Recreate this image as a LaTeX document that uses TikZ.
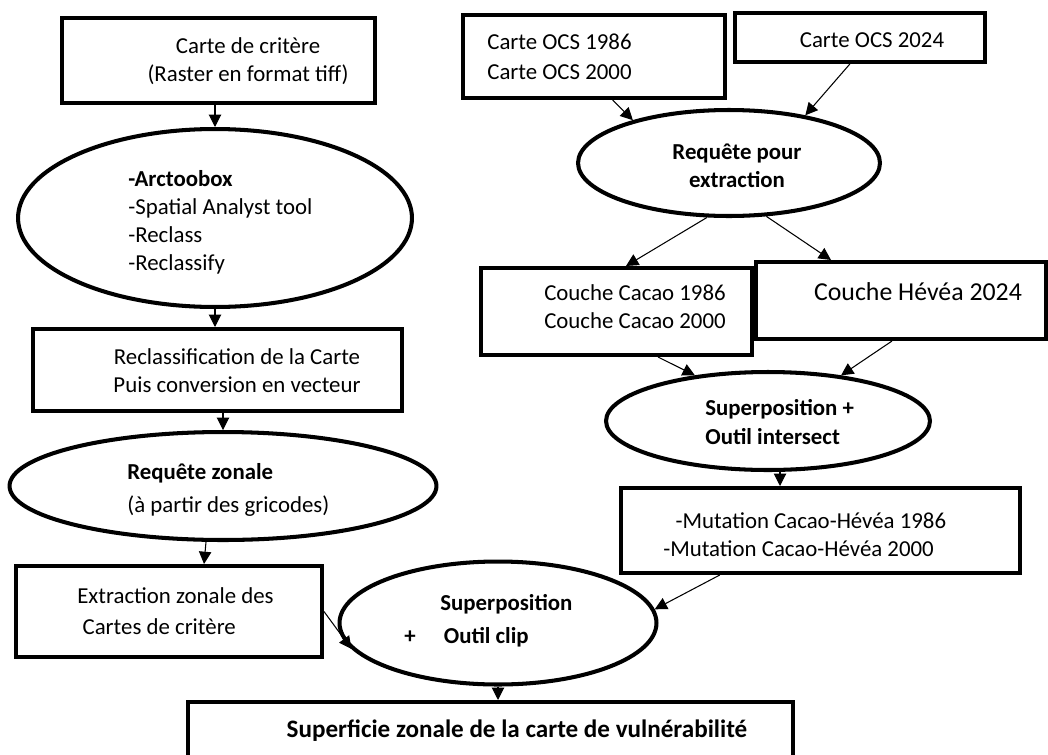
\documentclass[tikz,border=0pt]{standalone}
\usepackage{fontspec}
\setmainfont{Carlito}
\usetikzlibrary{shapes.geometric,arrows.meta,calc}

\begin{document}
\begin{tikzpicture}
        [   x=0.02cm, y=-0.02cm,
            boite/.style=
            {rectangle, draw, line width=2.3pt, inner sep=0pt},
            bulle/.style=
            {ellipse, draw, line width=2.3pt, inner sep=0pt},
            texte/.style=
            {inner sep=0pt, font=\fontsize{13pt}{16pt}\selectfont},
            fleche/.style=
            {-{Triangle[length=7pt,width=7pt]}, line width=0.6pt}
        ]
            \useasboundingbox (0,0) rectangle (1048,754);

            % colonne de gauche
            \node[boite, minimum width=6.26cm, minimum height=1.70cm] (carteCritere) at (218.5,60.5) {};
            \node[bulle, minimum width=7.88cm, minimum height=3.56cm] (arcToolbox) at (215,218) {};
            \node[boite, minimum width=7.38cm, minimum height=1.64cm] (reclassCarte) at (217.5,370) {};
            \node[bulle, minimum width=8.54cm, minimum height=2.16cm] (requeteZonale) at (223,486) {};
            \node[boite, minimum width=6.12cm, minimum height=1.82cm] (extractionZonale) at (169,611.5) {};
            \node[bulle, minimum width=6.34cm, minimum height=2.46cm] (superpoClip) at (498,623) {};
            \node[boite, minimum width=12.10cm, minimum height=1.40cm] (superficie) at (490.5,737) {};

            % colonne de droite
            \node[boite, minimum width=5.24cm, minimum height=1.66cm] (ocsAnciennes) at (594,56.5) {};
            \node[boite, minimum width=5.00cm, minimum height=0.98cm] (ocsRecente) at (860,37.5) {};
            \node[bulle, minimum width=6.04cm, minimum height=2.12cm] (requeteExtraction) at (729,163) {};
            \node[boite, minimum width=5.42cm, minimum height=1.74cm] (coucheCacao) at (616.5,311.5) {};
            \node[boite, minimum width=5.80cm, minimum height=1.54cm] (coucheHevea) at (901,300.5) {};
            \node[bulle, minimum width=6.48cm, minimum height=1.96cm] (superpoIntersect) at (768,421) {};
            \node[boite, minimum width=7.98cm, minimum height=1.70cm] (mutation) at (820.5,530.5) {};

            % textes
            \node[texte, align=center] (tCritere) at (248,61)
                {Carte de critère\\(Raster en format tiff)};
            \node[texte, align=left, anchor=west] (tArcToolbox) at (128,222)
                {\textbf{-Arctoobox}\\-Spatial Analyst tool\\-Reclass\\-Reclassify};
            \node[texte, align=center] (tReclass) at (237,371)
                {Reclassification de la Carte\\Puis conversion en vecteur};
            \node[texte, align=left, anchor=west] (tZonale) at (127,490)
                {\textbf{Requête zonale}\\[3pt](à partir des gricodes)};
            \node[texte, align=left, anchor=west] (tExtraction) at (77,611)
                {Extraction zonale des\\[2pt]\hspace{3pt}Cartes de critère};
            \node[texte, align=left, anchor=west] (tClip) at (440,621)
                {\textbf{Superposition}\\[3pt]\llap{\textbf{+}\hspace{14pt}}\hspace{2pt}\textbf{Outil clip}};
            \node[texte, font=\fontsize{14.3pt}{17pt}\selectfont] (tSuperficie) at (517,731)
                {\textbf{Superficie zonale de la carte de vulnérabilité}};
            \node[texte, align=left, anchor=west] (tOcsAnciennes) at (487,57)
                {Carte OCS 1986\\[1pt]Carte OCS 2000};
            \node[texte] (tOcsRecente) at (872,40) {Carte OCS 2024};
            \node[texte, align=center] (tExtractionReq) at (737,166)
                {\textbf{Requête pour}\\\textbf{extraction}};
            \node[texte, align=center] (tCacao) at (635,307)
                {Couche Cacao 1986\\Couche Cacao 2000};
            \node[texte, font=\fontsize{14.7pt}{18pt}\selectfont] (tHevea) at (918,292)
                {Couche Hévéa 2024};
            \node[texte, align=left, anchor=west] (tIntersect) at (705,422)
                {\textbf{Superposition +}\\\textbf{Outil intersect}};
            \node[texte, align=left, anchor=west] (tMutation) at (663,535)
                {\hspace{7pt}-Mutation Cacao-Hévéa 1986\\-Mutation Cacao-Hévéa 2000};

            % fleches
            \draw[fleche] (carteCritere.south -| arcToolbox.north) -- (arcToolbox.north);
            \draw[fleche] (arcToolbox.south) -- (arcToolbox.south |- reclassCarte.north);
            \draw[fleche] (reclassCarte.south -| requeteZonale.north) -- (requeteZonale.north);
            \draw[fleche] ($(requeteZonale.south)+(-17,0)$) -- ($(extractionZonale.north)+(35,0)$);
            \draw[fleche] (extractionZonale.east) -- (superpoClip.190);
            \draw[fleche] ($(mutation.south west)!0.25!(mutation.south east)$) -- (superpoClip.5);
            \draw[fleche] (superpoClip.south) -- (superpoClip.south |- superficie.north);

            \draw[fleche] ($(ocsAnciennes.south west)!0.57!(ocsAnciennes.south east)$) -- (requeteExtraction.156);
            \draw[fleche] ($(ocsRecente.south west)!0.46!(ocsRecente.south east)$) -- (requeteExtraction.32);
            \draw[fleche] (requeteExtraction.248) -- ($(coucheCacao.north west)+(147,0)$);
            \draw[fleche] (requeteExtraction.305) -- ($(coucheHevea.north west)+(77,0)$);
            \draw[fleche] ($(coucheCacao.south west)+(179,0)$) -- (superpoIntersect.148);
            \draw[fleche] ($(coucheHevea.south west)+(138,0)$) -- (superpoIntersect.32);
            \coordinate (basIntersect) at ($(superpoIntersect.south)+(12,0)$);
            \draw[fleche] (basIntersect) -- (basIntersect |- mutation.north);
    \end{tikzpicture}
\end{document}
